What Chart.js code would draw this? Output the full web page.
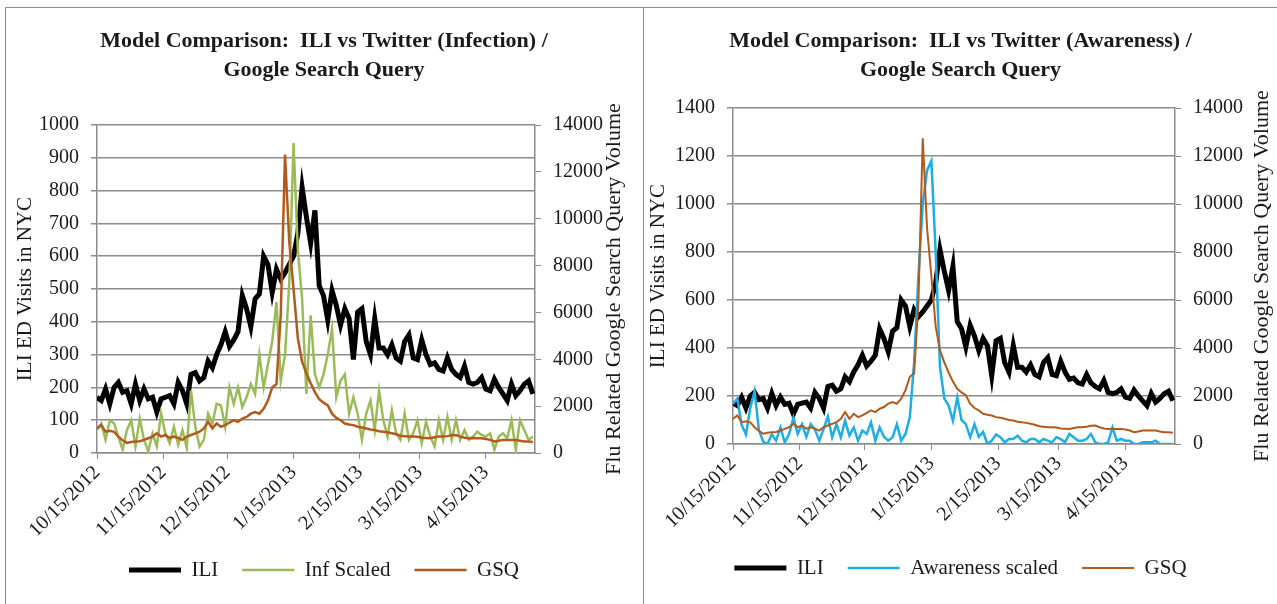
<!DOCTYPE html>
<html>
<head>
<meta charset="utf-8">
<script src="https://cdn.jsdelivr.net/npm/chart.js@4.4.1/dist/chart.umd.min.js"></script>
<style>
  body { margin: 0; background: #fff; }
  #page { position: relative; width: 1277px; height: 604px; overflow: hidden; background: #fff; }
  .panel { position: absolute; border: 1px solid #8c8c8c; }
  canvas { position: absolute; }
</style>
</head>
<body>
<div id="page">
  <div class="panel" style="left:5px; top:7px; width:637px; height:620px;"></div>
  <div class="panel" style="left:643px; top:7px; width:640px; height:620px;"></div>
  <canvas id="infection-canvas" width="636" height="596" style="left:6px; top:8px;"></canvas>
  <canvas id="awareness-canvas" width="633" height="596" style="left:644px; top:8px;"></canvas>
</div>
<script>
// values read every 2 days, starting 10/15/2012
const dayStep = 2

// ILI ED visits in NYC
const iliVisits = [
  170, 160, 195, 150, 200, 215, 185, 190, 150, 210, 160, 195, 165, 170, 125, 165,
  170, 175, 150, 215, 190, 150, 240, 245, 220, 230, 280, 260, 300, 330, 370, 325,
  345, 370, 480, 440, 385, 470, 485, 600, 575, 490, 560, 530, 550, 575, 600, 670,
  810, 720, 640, 740, 510, 480, 405, 495, 450, 390, 440, 410, 285, 430, 440, 340,
  300, 410, 320, 320, 300, 330, 290, 280, 340, 360, 290, 285, 345, 300, 270, 275,
  255, 250, 290, 255, 240, 230, 265, 215, 210, 215, 230, 195, 190, 225, 200, 180,
  160, 210, 175, 190, 210, 220, 180
]

// flu related google search query volume
const gsqVolume = [
  1050, 1190, 910, 950, 900, 700, 540, 430, 470, 490, 500, 560, 630, 700, 840, 700,
  770, 640, 700, 640, 560, 700, 770, 840, 910, 1050, 1330, 1050, 1260, 1120, 1190, 1300,
  1400, 1330, 1470, 1540, 1680, 1750, 1680, 1890, 2240, 2800, 2940, 5900, 12740, 9000, 7000, 4900,
  3900, 3400, 2980, 2600, 2300, 2150, 2030, 1680, 1500, 1400, 1260, 1220, 1190, 1120, 1090, 1050,
  1000, 980, 930, 910, 880, 840, 800, 740, 720, 700, 700, 690, 650, 640, 630, 670,
  700, 700, 720, 760, 770, 700, 650, 630, 640, 630, 630, 600, 560, 490, 520, 560,
  560, 560, 560, 520, 490, 490, 470
]

// twitter infection model, scaled
const infScaled = [
  70, 90, 40, 100, 90, 50, 10, 70, 100, 20, 105, 40, 5, 60, 20, 120,
  60, 30, 80, 25, 70, 15, 190, 80, 20, 40, 120, 90, 150, 145, 80, 200,
  150, 200, 140, 170, 210, 180, 300, 200, 270, 340, 460, 220, 300, 520, 945, 620,
  470, 180, 420, 240, 200, 240, 300, 380, 170, 220, 240, 120, 170, 120, 40, 120,
  160, 70, 190, 100, 50, 130, 60, 40, 120, 40, 60, 100, 30, 95, 50, 20,
  100, 40, 110, 40, 100, 40, 70, 40, 50, 65, 55, 50, 60, 10, 50, 60,
  45, 100, 10, 100, 70, 40, 50
]

// twitter awareness model, scaled
const awarenessScaled = [
  167, 190, 80, 40, 150, 220, 60, 10, 0, 40, 14, 69, 7, 40, 110, 42,
  83, 30, 83, 60, 14, 62, 115, 28, 83, 28, 97, 35, 69, 14, 56, 42,
  90, 14, 69, 30, 14, 28, 83, 14, 42, 111, 340, 700, 1000, 1140, 1180, 800,
  320, 190, 160, 97, 194, 100, 83, 28, 83, 30, 50, 0, 14, 40, 28, 7,
  21, 21, 35, 14, 7, 21, 21, 7, 21, 14, 7, 28, 20, 7, 42, 28,
  14, 14, 21, 42, 7, 0, 0, 7, 69, 14, 21, 14, 14, 0, 0, 7,
  7, 7, 14, 0, 0, 0, 0
]

// x axis: days since 10/15/2012
const tickDays = [0, 31, 61, 92, 123, 151, 182]
const tickLabels = ['10/15/2012', '11/15/2012', '12/15/2012', '1/15/2013', '2/15/2013', '3/15/2013', '4/15/2013']
const lastDay = 205

const serif = 'Liberation Serif'
const textColor = '#1a1a1a'
const gridColor = '#8c8c8c'

function toPoints(values) {
  return values.map((v, i) => ({ x: i * dayStep, y: v }))
}

// right axis title reads bottom to top, chart.js turns it the other way
const rightTitle = {
  id: 'rightTitle',
  afterDraw(chart, args, opts) {
    const ctx = chart.ctx
    const area = chart.chartArea
    ctx.save()
    ctx.translate(opts.x, (area.top + area.bottom) / 2)
    ctx.rotate(-Math.PI / 2)
    ctx.font = opts.size + 'px "' + serif + '"'
    ctx.fillStyle = textColor
    ctx.textAlign = 'center'
    ctx.textBaseline = 'middle'
    ctx.fillText(opts.text, 0, 0)
    ctx.restore()
  },
}

function makeChart(id, cfg) {
  const ctx = document.getElementById(id).getContext('2d')
  return new Chart(ctx, {
    type: 'line',
    data: {
      datasets: [
        {
          label: 'ILI',
          data: toPoints(iliVisits),
          borderColor: '#000000',
          backgroundColor: '#000000',
          borderWidth: 5,
          yAxisID: 'y',
          order: 3,
        },
        {
          label: cfg.twitterLabel,
          data: toPoints(cfg.twitterValues),
          borderColor: cfg.twitterColor,
          backgroundColor: cfg.twitterColor,
          borderWidth: 2.5,
          yAxisID: 'y',
          order: 2,
        },
        {
          label: 'GSQ',
          data: toPoints(gsqVolume),
          borderColor: '#b25a1c',
          backgroundColor: '#b25a1c',
          borderWidth: cfg.gsqWidth,
          yAxisID: 'y1',
          order: 1,
        },
      ],
    },
    options: {
      responsive: false,
      animation: false,
      events: [],
      elements: {
        point: { radius: 0 },
        line: { tension: 0 },
      },
      layout: {
        padding: { left: 0, right: 0, top: 0, bottom: cfg.bottomPad },
      },
      scales: {
        x: {
          type: 'linear',
          min: 0,
          max: lastDay,
          afterBuildTicks: (scale) => {
            scale.ticks = tickDays.map(d => ({ value: d }))
          },
          afterFit: (scale) => {
            scale.height = cfg.xHeight
          },
          ticks: {
            autoSkip: false,
            maxRotation: 45,
            minRotation: 45,
            padding: 2,
            color: textColor,
            font: { family: serif, size: 20 },
            callback: (v) => tickLabels[tickDays.indexOf(v)],
          },
          grid: {
            drawOnChartArea: false,
            color: gridColor,
            tickLength: 6,
          },
          border: { color: gridColor, width: 1.5 },
        },
        y: {
          position: 'left',
          min: 0,
          max: cfg.leftMax,
          afterBuildTicks: (scale) => {
            const t = []
            for (let v = 0; v <= cfg.leftMax; v += cfg.leftStep) t.push({ value: v })
            scale.ticks = t
          },
          afterFit: (scale) => {
            scale.width = cfg.leftWidth
          },
          ticks: {
            padding: 12,
            color: textColor,
            font: { family: serif, size: 20 },
            callback: (v) => String(v),
          },
          grid: {
            color: gridColor,
            lineWidth: 1.5,
            tickLength: 6,
          },
          border: { color: gridColor, width: 1.5 },
          title: {
            display: true,
            text: 'ILI ED Visits in NYC',
            color: textColor,
            font: { family: serif, size: 21 },
            padding: { top: cfg.leftTitlePad, bottom: 0 },
          },
        },
        y1: {
          position: 'right',
          min: 0,
          max: 14000,
          afterBuildTicks: (scale) => {
            const t = []
            for (let v = 0; v <= 14000; v += 2000) t.push({ value: v })
            scale.ticks = t
          },
          afterFit: (scale) => {
            scale.width = cfg.rightWidth
          },
          ticks: {
            padding: 12,
            color: textColor,
            font: { family: serif, size: 20 },
            callback: (v) => String(v),
          },
          grid: {
            drawOnChartArea: false,
            color: gridColor,
            tickLength: 6,
          },
          border: { color: gridColor, width: 1.5 },
        },
      },
      plugins: {
        title: {
          display: true,
          text: cfg.title,
          color: textColor,
          font: { family: serif, size: 22, weight: 'bold', lineHeight: 1.32 },
          padding: { top: 18.5, bottom: cfg.titleBottom },
        },
        legend: {
          display: true,
          position: 'bottom',
          labels: {
            usePointStyle: true,
            pointStyle: 'line',
            pointStyleWidth: 52,
            padding: 24,
            color: textColor,
            font: { family: serif, size: 21 },
            sort: (a, b) => a.datasetIndex - b.datasetIndex,
          },
        },
        tooltip: { enabled: false },
        rightTitle: {
          text: 'Flu Related Google Search Query Volume',
          x: cfg.rightTitleX,
          size: 22,
        },
      },
    },
    plugins: [rightTitle],
  })
}

makeChart('infection-canvas', {
  title: ['Model Comparison:  ILI vs Twitter (Infection) /', 'Google Search Query'],
  twitterLabel: 'Inf Scaled',
  twitterValues: infScaled,
  twitterColor: '#9bbb59',
  gsqWidth: 2.5,
  leftMax: 1000,
  leftStep: 100,
  leftWidth: 91,
  rightWidth: 107,
  leftTitlePad: 6.4,
  rightTitleX: 608,
  titleBottom: 40.5,
  xHeight: 82.5,
  bottomPad: 13.5,
})

makeChart('awareness-canvas', {
  title: ['Model Comparison:  ILI vs Twitter (Awareness) /', 'Google Search Query'],
  twitterLabel: 'Awareness scaled',
  twitterValues: awarenessScaled,
  twitterColor: '#1eaee6',
  gsqWidth: 2,
  leftMax: 1400,
  leftStep: 200,
  leftWidth: 89,
  rightWidth: 102,
  leftTitlePad: 1.4,
  rightTitleX: 618,
  titleBottom: 23.5,
  xHeight: 89.5,
  bottomPad: 15.5,
})
</script>
</body>
</html>
